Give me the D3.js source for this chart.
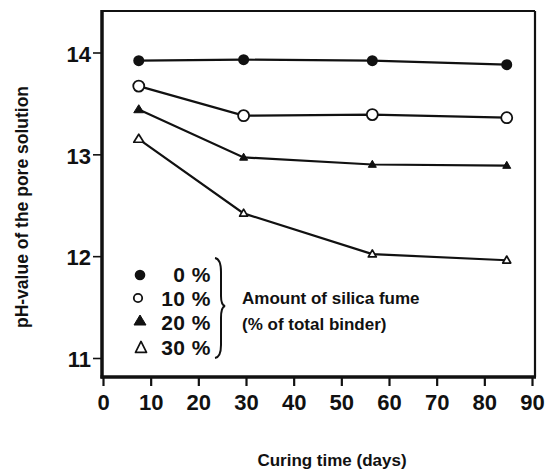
<!DOCTYPE html>
<html><head><meta charset="utf-8">
<script src="https://cdn.jsdelivr.net/npm/d3@7"></script>
<style>body{margin:0;background:#fff}svg{display:block}text{font-family:"Liberation Sans",Arial,sans-serif;fill:#111;font-weight:bold}</style>
</head><body><svg id="c" width="547" height="473"></svg>
<script>
const days = [7.5, 29.5, 56.5, 84.7];
const ph0  = [13.92, 13.93, 13.92, 13.88];
const ph10 = [13.67, 13.38, 13.39, 13.36];
const ph20 = [13.44, 12.97, 12.90, 12.89];
const ph30 = [13.15, 12.42, 12.02, 11.96];
const seriesNames = ["0 %", "10 %", "20 %", "30 %"];
const xTicks = [0,10,20,30,40,50,60,70,80,90];
const yTicks = [11,12,13,14];

const svg = d3.select("#c");
const x = d3.scaleLinear().domain([0,90]).range([103,532]);
const y = d3.scaleLinear().domain([11,14]).range([358,52.5]);
const L=102, R=535, T=11, B=377;
const FF = "Liberation Sans, Arial, sans-serif";

svg.append("line").attr("x1",L).attr("x2",R).attr("y1",T).attr("y2",T).attr("stroke","#111").attr("stroke-width",2);
svg.append("line").attr("x1",R).attr("x2",R).attr("y1",T).attr("y2",B).attr("stroke","#111").attr("stroke-width",2.2);

const yAxis = svg.append("g").attr("transform",`translate(${L},0)`)
  .call(d3.axisLeft(y).tickValues(yTicks).tickSize(9).tickPadding(2).tickFormat(d3.format("d")));
yAxis.select(".domain").remove();
yAxis.append("line").attr("x1",0).attr("x2",0).attr("y1",T-1).attr("y2",B+1.5).attr("stroke","#111").attr("stroke-width",3.5);
yAxis.selectAll(".tick line").attr("stroke","#111").attr("stroke-width",1.6);
yAxis.selectAll(".tick text").attr("font-size",22).attr("fill","#111").attr("font-family",FF).attr("font-weight","bold").attr("dy","0.4em");

const xAxis = svg.append("g").attr("transform",`translate(0,${B})`)
  .call(d3.axisBottom(x).tickValues(xTicks).tickSize(9).tickPadding(8).tickFormat(d3.format("d")));
xAxis.select(".domain").remove();
xAxis.append("line").attr("x1",L-1.5).attr("x2",R+1).attr("y1",0).attr("y2",0).attr("stroke","#111").attr("stroke-width",3.5);
xAxis.selectAll(".tick line").attr("stroke","#111").attr("stroke-width",2.2);
xAxis.selectAll(".tick text").attr("font-size",22).attr("fill","#111").attr("font-family",FF).attr("font-weight","bold");

const all = [ph0, ph10, ph20, ph30];
const line = d3.line().x((d,i)=>x(days[i])).y(d=>y(d));
all.forEach(s=>{
  svg.append("path").attr("d",line(s)).attr("fill","none").attr("stroke","#111").attr("stroke-width",2.2);
});

function marker(g, k, cx, cy, w, h, r){
  if(k===0) g.append("circle").attr("cx",cx).attr("cy",cy).attr("r",r).attr("fill","#111");
  else if(k===1) g.append("circle").attr("cx",cx).attr("cy",cy).attr("r",r).attr("fill","#fff").attr("stroke","#111").attr("stroke-width",1.8);
  else {
    const p = `M${cx},${cy-h*0.6}L${cx+w/2},${cy+h*0.4}L${cx-w/2},${cy+h*0.4}Z`;
    g.append("path").attr("d",p).attr("fill",k===2?"#111":"#fff").attr("stroke","#111").attr("stroke-width",k===2?1:1.7).attr("stroke-linejoin","round");
  }
}
const mg = svg.append("g");
all.forEach((s,k)=>{
  s.forEach((v,i)=>{
    const big = i===0;
    marker(mg,k,x(days[i]),y(v), big?10:8, big?8:7, 5.5);
  });
});

// legend
const lg = svg.append("g");
const baseY = [282, 306, 330, 355];
const mk = [{cx:140,cy:275,w:0,h:0,r:5.3},{cx:138,cy:298,w:0,h:0,r:4.2},{cx:140,cy:321,w:12,h:10,r:0},{cx:141,cy:348,w:11,h:11,r:0}];
seriesNames.forEach((n,k)=>{
  const m = mk[k];
  marker(lg, k, m.cx, m.cy, m.w, m.h, m.r);
  lg.append("text").attr("x",211).attr("y",baseY[k]).attr("text-anchor","end").attr("font-size",21).attr("letter-spacing",0.5).text(n);
});
lg.append("path").attr("d","M215,258 Q221,259 221,272 L221,296 Q221,305 225,306 Q221,307 221,318 L221,345 Q221,357 215,358")
  .attr("fill","none").attr("stroke","#111").attr("stroke-width",2);
lg.append("text").attr("x",242).attr("y",304).attr("font-size",17).text("Amount of silica fume");
lg.append("text").attr("x",242).attr("y",330).attr("font-size",17).text("(% of total binder)");

svg.append("text").attr("transform","translate(28,207) rotate(-90)").attr("text-anchor","middle").attr("font-size",17.5).text("pH-value of the pore solution");
svg.append("text").attr("x",332).attr("y",466).attr("text-anchor","middle").attr("font-size",17).text("Curing time (days)");
</script></body></html>
